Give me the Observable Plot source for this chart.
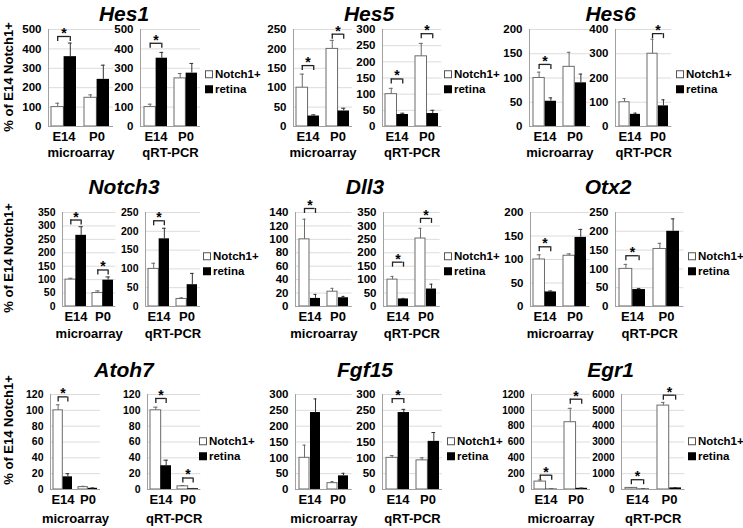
<!DOCTYPE html>
<html><head><meta charset="utf-8">
<script src="https://cdn.jsdelivr.net/npm/d3@7"></script>
<script src="https://cdn.jsdelivr.net/npm/@observablehq/plot@0.6"></script>
<style>
body{margin:0;background:#fff}
#fig{position:relative;width:743px;height:528px;overflow:hidden;font-family:"Liberation Sans",Arial,sans-serif;font-weight:bold;color:#000;background:#fff}
.abs{position:absolute;white-space:nowrap;line-height:1}
.title{font-size:21px;line-height:0.9;font-style:italic;transform:translate(-50%,-50%)}
.ylab{font-size:13px;transform:translate(-50%,-50%) rotate(-90deg)}
.leg{font-size:11.5px;transform:translateY(-50%)}
.box{display:inline-block;width:8px;height:8px;margin-right:2px;vertical-align:0px;box-sizing:border-box}
#fig svg{position:absolute;overflow:visible}
#fig svg text{font-weight:700 !important;font-family:"Liberation Sans",Arial,sans-serif !important}
</style></head><body><div id="fig"></div><script>
// ---------- data ----------
const genes   = ["Hes1","Hes5","Hes6","Notch3","Dll3","Otx2","Atoh7","Fgf15","Egr1"];
const methods = ["microarray","qRT-PCR"];
const stages  = ["E14","P0"];
const cells   = ["Notch1+","retina"];
const yLabel  = "% of E14 Notch1+";
// means / errors in order [E14 Notch1+, E14 retina, P0 Notch1+, P0 retina]; per gene [microarray, qRT-PCR]
// sig: bracket height for [E14, P0] (null = no bracket); axis: [max, step]
const hes1Mean = [[100,360,148,243],[100,352,248,275]];
const hes1Err  = [[20,70,15,73],[15,30,25,50]];
const hes1Sig  = [[464,null],[429,null]];
const hes1Axis = [[500,100],[500,100]];

const hes5Mean = [[100,27,200,40],[100,37,217,40]];
const hes5Err  = [[35,3,22,7],[18,4,40,10]];
const hes5Sig  = [[157,238],[147,287]];
const hes5Axis = [[250,50],[300,50]];

const hes6Mean = [[100,52,123,90],[100,50,300,85]];
const hes6Err  = [[12,7,30,18],[15,5,60,25]];
const hes6Sig  = [[128,null],[null,383]];
const hes6Axis = [[200,50],[400,100]];

const notch3Mean = [[100,265,50,98],[100,180,20,58]];
const notch3Err  = [[5,32,8,12],[15,28,3,30]];
const notch3Sig  = [[322,136],[228,null]];
const notch3Axis = [[350,50],[250,50]];

const dll3Mean = [[100,12,22,13],[100,28,253,65]];
const dll3Err  = [[30,6,5,2],[12,2,38,18]];
const dll3Sig  = [[146,null],[165,328]];
const dll3Axis = [[140,20],[350,50]];

const otx2Mean = [[100,31,108,147],[100,45,153,200]];
const otx2Err  = [[10,2,4,17],[12,3,15,33]];
const otx2Sig  = [[127,null],[135,null]];
const otx2Axis = [[200,50],[250,50]];

const atoh7Mean = [[100,16,3,1.5],[100,30,4,1]];
const atoh7Err  = [[7,4,1,0.5],[4,7,1,0.3]];
const atoh7Sig  = [[117,null],[115,14.5]];
const atoh7Axis = [[120,20],[120,20]];

const fgf15Mean = [[100,243,20,43],[100,243,92,152]];
const fgf15Err  = [[40,43,5,8],[7,10,8,28]];
const fgf15Sig  = [[null,null],[287,null]];
const fgf15Axis = [[300,50],[300,50]];

const egr1Mean = [[100,5,850,15],[100,30,5300,100]];
const egr1Err  = [[20,1,175,3],[20,5,200,20]];
const egr1Sig  = [[181,1141],[617,5957]];
const egr1Axis = [[1200,200],[6000,1000]];

const allMean = [hes1Mean,hes5Mean,hes6Mean,notch3Mean,dll3Mean,otx2Mean,atoh7Mean,fgf15Mean,egr1Mean];
const allErr  = [hes1Err,hes5Err,hes6Err,notch3Err,dll3Err,otx2Err,atoh7Err,fgf15Err,egr1Err];
const allSig  = [hes1Sig,hes5Sig,hes6Sig,notch3Sig,dll3Sig,otx2Sig,atoh7Sig,fgf15Sig,egr1Sig];
const allAxis = [hes1Axis,hes5Axis,hes6Axis,notch3Axis,dll3Axis,otx2Axis,atoh7Axis,fgf15Axis,egr1Axis];

// ---------- layout (pixels) ----------
const rowTop    = [29, 212, 394];
const rowBase   = [126, 306, 489];
const rowTitleY = [13.5, 187, 370];
const rowMethodDy = [26, 27, 29];
const rowLegendY = [75, 257, 442];
const rowYLabelY = [77, 258, 430];
// per gene: [microAxisX, microRight, qrtAxisX, qrtRight, legendX, titleX, tickFont]
const geo = [
 [47.7,112.7,140,200,205,124,11.5],
 [292.7,351.7,381.7,441,444,369,11.5],
 [529,589.7,614.7,671,676,610.5,11.5],
 [61.7,115,145,200,203,124,10.5],
 [295,351.7,383.3,440,444,365,11.5],
 [530.3,589.7,614.7,683,688,608,11.5],
 [50,100,146.7,200,199,124,10.5],
 [295,351.7,381.7,441.7,447,365,11.5],
 [530.7,589.7,621.3,684.7,688,610.5,10]
];

const fig = document.getElementById("fig");
const FONT = '"Liberation Sans", Arial, sans-serif';

function addDiv(cls, html, x, y){
  const d = document.createElement("div");
  d.className = "abs " + cls; d.innerHTML = html;
  d.style.left = x + "px"; d.style.top = y + "px";
  fig.appendChild(d); return d;
}

function subplot(mean, err, sig, axis, method, axisX, rightX, top, base, fs, mdy){
  const [ymax, step] = axis;
  const ticks = d3.range(0, ymax + step/2, step);
  const mL = 40, mR = 4, mT = 18, mB = 40;
  const w = rightX - axisX;
  const pi = 0.24, po = 0.1;
  const stepPx = w / (2 - pi + 2*po);
  const bw = stepPx * (1 - pi);
  const rows = stages.flatMap((s,i) => cells.map((c,j) => ({stage:s, cell:c, mean:mean[i*2+j], err:err[i*2+j]})));
  const notch = rows.filter(d => d.cell === cells[0]);
  const ret = rows.filter(d => d.cell === cells[1]);
  const sigRows = stages.map((s,i) => ({stage:s, h:sig[i]})).filter(d => d.h != null);
  const leg = ymax * 5 / (base - top);
  const gray = "#6b6b6b";
  const p = Plot.plot({
    width: w + mL + mR, height: (base - top) + mT + mB,
    marginLeft: mL, marginRight: mR, marginTop: mT, marginBottom: mB,
    x: {domain: stages, paddingInner: pi, paddingOuter: po},
    y: {domain: [0, ymax]},
    style: {fontFamily: FONT, fontWeight: "bold", fontSize: fs + "px", background: "transparent", overflow: "visible", color: "#000"},
    marks: [
      Plot.gridY(ticks, {stroke: "#dcdcdc", strokeOpacity: 1}),
      Plot.barY(notch, {x: "stage", y: "mean", fill: "white", stroke: gray, strokeWidth: 1, insetRight: bw/2}),
      Plot.barY(ret, {x: "stage", y: "mean", fill: "black", insetLeft: bw/2}),
      Plot.ruleX(notch, {x: "stage", y1: "mean", y2: d => d.mean + d.err, dx: -bw/4, stroke: gray}),
      Plot.tickY(notch, {x: "stage", y: d => d.mean + d.err, insetLeft: bw/4 - 2, insetRight: 3*bw/4 - 2, stroke: gray}),
      Plot.ruleX(ret, {x: "stage", y1: "mean", y2: d => d.mean + d.err, dx: bw/4, stroke: "#333"}),
      Plot.tickY(ret, {x: "stage", y: d => d.mean + d.err, insetLeft: 3*bw/4 - 2, insetRight: bw/4 - 2, stroke: "#333"}),
      Plot.ruleY([0], {stroke: "#a0a0a0"}),
      Plot.frame({anchor: "left", stroke: "#a0a0a0"}),
      Plot.axisY({ticks, tickSize: 0, tickPadding: 7, label: null, fontSize: fs, fontWeight: "bold", tickFormat: d => String(d)}),
      Plot.axisX({tickSize: 0, tickPadding: 5, label: null, fontSize: 13, fontWeight: "bold"}),
      Plot.text([method], {frameAnchor: "bottom", lineAnchor: "middle", dy: mdy, fontSize: 13, fontWeight: "bold"}),
      Plot.tickY(sigRows, {x: "stage", y: "h", insetLeft: bw/4, insetRight: bw/4, stroke: "#222", strokeWidth: 1.3}),
      Plot.ruleX(sigRows, {x: "stage", y1: "h", y2: d => d.h - leg, dx: -bw/4, stroke: "#222", strokeWidth: 1.3}),
      Plot.ruleX(sigRows, {x: "stage", y1: "h", y2: d => d.h - leg, dx: bw/4, stroke: "#222", strokeWidth: 1.3}),
      Plot.text(sigRows, {x: "stage", y: "h", text: () => "*", dy: -3, fontSize: 14, fontWeight: "bold"})
    ]
  });
  p.style.left = (axisX - mL) + "px";
  p.style.top = (top - mT) + "px";
  fig.appendChild(p);
}

genes.forEach((g, gi) => {
  const r = Math.floor(gi / 3), c = gi % 3;
  const [mx, mr, qx, qr, lx, tx, fs] = geo[gi];
  addDiv("title", g, tx, rowTitleY[r]);
  subplot(allMean[gi][0], allErr[gi][0], allSig[gi][0], allAxis[gi][0], methods[0], mx, mr, rowTop[r], rowBase[r], fs, rowMethodDy[r]);
  subplot(allMean[gi][1], allErr[gi][1], allSig[gi][1], allAxis[gi][1], methods[1], qx, qr, rowTop[r], rowBase[r], fs, rowMethodDy[r]);
  addDiv("leg", '<span class="box" style="border:1px solid #555;background:#fff"></span>' + cells[0], lx, rowLegendY[r]);
  addDiv("leg", '<span class="box" style="background:#000"></span>' + cells[1], lx, rowLegendY[r] + 15);
  if (c === 0) addDiv("ylab", yLabel, 8, rowYLabelY[r]);
});
</script></body></html>
